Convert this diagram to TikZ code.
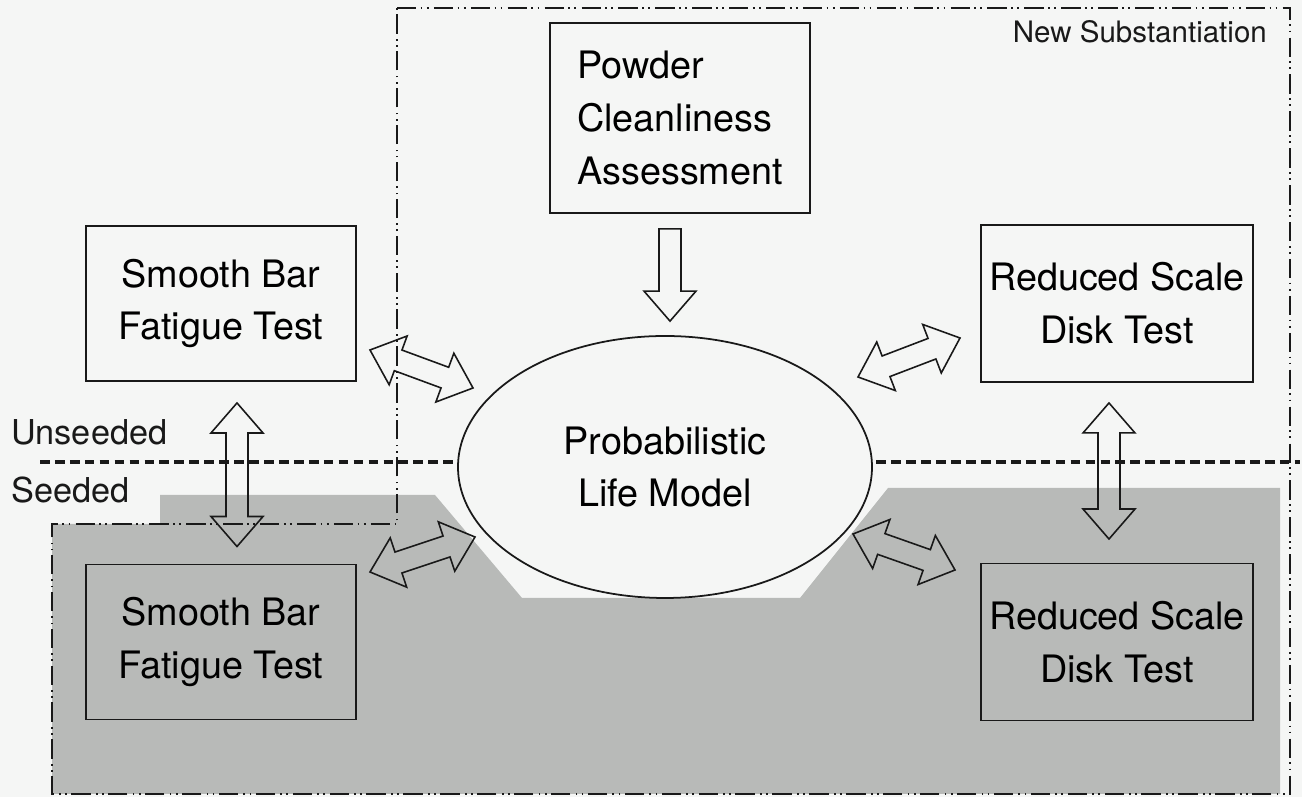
\documentclass[tikz,border=0pt]{standalone}
\usepackage{fontspec}
\setmainfont{TeX Gyre Heros}
\usetikzlibrary{calc,shapes.geometric}

\definecolor{paper}{RGB}{245,246,245}
\definecolor{seedgray}{RGB}{184,186,184}
\definecolor{ink}{RGB}{25,25,25}

% block arrow sizes (half shaft, half head, head length)
\newcommand{\arrsw}{0.22cm}
\newcommand{\arrhw}{0.52cm}
\newcommand{\arrhl}{0.6cm}

% double-headed block arrow between two named points
\newcommand{\dblarrow}[2]{%
  \draw[blockarrow] (#1)
    -- ($(#1)!\arrhl!(#2)!\arrhw!90:(#2)$)
    -- ($(#1)!\arrhl!(#2)!\arrsw!90:(#2)$)
    -- ($(#2)!\arrhl!(#1)!\arrsw!-90:(#1)$)
    -- ($(#2)!\arrhl!(#1)!\arrhw!-90:(#1)$)
    -- (#2)
    -- ($(#2)!\arrhl!(#1)!\arrhw!90:(#1)$)
    -- ($(#2)!\arrhl!(#1)!\arrsw!90:(#1)$)
    -- ($(#1)!\arrhl!(#2)!\arrsw!-90:(#2)$)
    -- ($(#1)!\arrhl!(#2)!\arrhw!-90:(#2)$)
    -- cycle;}

% single block arrow, flat tail at #1
\newcommand{\onearrow}[2]{%
  \draw[blockarrow] ($(#1)!\arrsw!90:(#2)$)
    -- ($(#2)!\arrhl!(#1)!\arrsw!-90:(#1)$)
    -- ($(#2)!\arrhl!(#1)!\arrhw!-90:(#1)$)
    -- (#2)
    -- ($(#2)!\arrhl!(#1)!\arrhw!90:(#1)$)
    -- ($(#2)!\arrhl!(#1)!\arrsw!90:(#1)$)
    -- ($(#1)!\arrsw!-90:(#2)$)
    -- cycle;}

\tikzset{
  box/.style={draw=ink, line width=1.1pt, minimum width=5.4cm,
    minimum height=3.1cm, inner xsep=2pt, align=center,
    font=\fontsize{21.5}{30}\selectfont},
  lifemodel/.style={ellipse, draw=ink, line width=1pt, fill=paper,
    minimum width=8.28cm, minimum height=5.24cm, inner sep=0pt,
    align=center, font=\fontsize{21.5}{30}\selectfont},
  blockarrow/.style={draw=ink, line width=0.9pt, line join=miter},
  regionline/.style={draw=ink, line width=1.4pt,
    dash pattern=on 11pt off 2.5pt on 1pt off 2.5pt on 1pt off 3pt},
  splitline/.style={draw=ink, line width=2.3pt,
    dash pattern=on 5.5pt off 3pt},
  sidelabel/.style={anchor=base west, text=ink,
    font=\fontsize{19.5}{23}\selectfont}
}

\begin{document}
\begin{tikzpicture}

\useasboundingbox (0,0) rectangle (26.04,15.94);
\fill[paper] (0,0) rectangle (26.04,15.94);

% ── Seeded area (shaded) ──────────────────────────────────────
\fill[seedgray] (1.04,0.06) -- (1.04,5.46) -- (3.2,5.46) -- (3.2,6.04)
  -- (8.7,6.04) -- (10.44,3.98) -- (16.0,3.98) -- (17.76,6.18)
  -- (25.6,6.18) -- (25.6,0.06) -- cycle;

% ── New substantiation boundary ───────────────────────────────
\draw[regionline] (7.94,15.78) -- (25.8,15.78) -- (25.8,0.06)
  -- (1.04,0.06) -- (1.04,5.46) -- (7.94,5.46) -- cycle;
\node[anchor=base east, text=ink, font=\fontsize{16.8}{20}\selectfont]
  (newsub) at (25.46,15.08) {New Substantiation};

% ── Unseeded / seeded split ───────────────────────────────────
\draw[splitline] (0.8,6.7) -- (26.0,6.7);
\node[sidelabel] (unseeded) at (0.1,7.04) {Unseeded};
\node[sidelabel] (seeded) at (0.1,5.88) {Seeded};

% ── Model and tests ───────────────────────────────────────────
\node[lifemodel] (plm) at (13.3,6.6) {Probabilistic\\Life Model};
\node[box] (sbu) at (4.42,9.87) {Smooth Bar\\Fatigue Test};
\node[box] (sbs) at (4.42,3.1) {Smooth Bar\\Fatigue Test};
\node[box, minimum width=5.2cm, minimum height=3.8cm, align=left]
  (pca) at (13.6,13.58) {Powder\\Cleanliness\\Assessment};
\node[box, minimum width=5.44cm, minimum height=3.14cm]
  (rsu) at (22.34,9.87) {Reduced Scale\\Disk Test};
\node[box, minimum width=5.44cm, minimum height=3.14cm]
  (rss) at (22.34,3.1) {Reduced Scale\\Disk Test};

% ── Arrow ends ────────────────────────────────────────────────
\coordinate (pcaA) at ([xshift=-0.2cm, yshift=-0.3cm]pca.south);
\coordinate (plmN) at ([xshift=0.1cm, yshift=0.28cm]plm.north);
\coordinate (sbuB) at ([xshift=0.32cm, yshift=-0.42cm]sbu.south);
\coordinate (sbsT) at ([xshift=0.32cm, yshift=0.34cm]sbs.north);
\coordinate (rsuB) at ([xshift=-0.16cm, yshift=-0.4cm]rsu.south);
\coordinate (rssT) at ([xshift=-0.16cm, yshift=0.47cm]rss.north);
\coordinate (sbuA) at (7.40,8.94);  \coordinate (plmA) at (9.46,8.18);
\coordinate (sbsA) at (7.40,4.50);  \coordinate (plmB) at (9.50,5.20);
\coordinate (plmC) at (17.16,8.40); \coordinate (rsuA) at (19.20,9.18);
\coordinate (plmD) at (17.06,5.26); \coordinate (rssA) at (19.10,4.54);

% ── Block arrows ──────────────────────────────────────────────
\onearrow{pcaA}{plmN}
\dblarrow{sbuB}{sbsT}
\dblarrow{rsuB}{rssT}
\dblarrow{sbuA}{plmA}
\dblarrow{sbsA}{plmB}
\dblarrow{plmC}{rsuA}
\dblarrow{plmD}{rssA}

\end{tikzpicture}
\end{document}
